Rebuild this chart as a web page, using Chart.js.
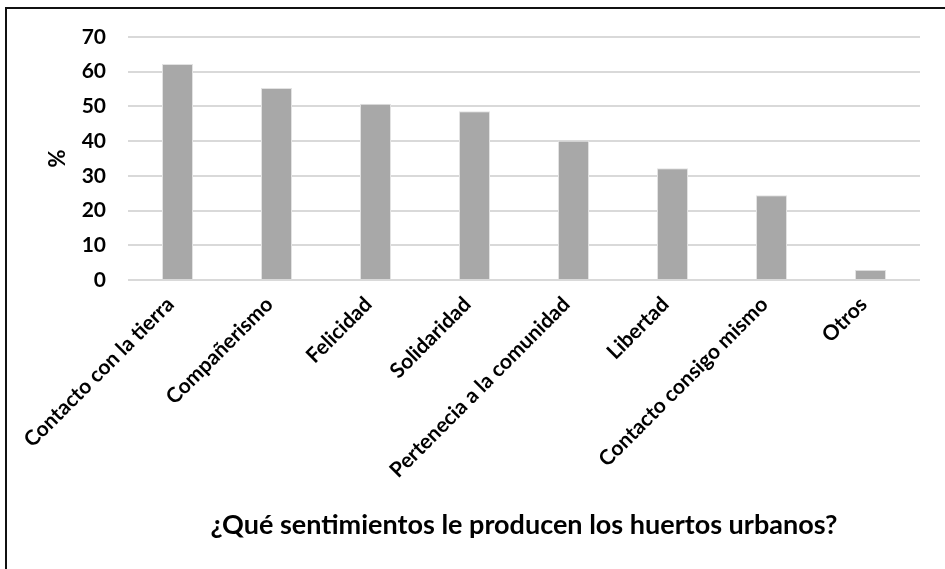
<!DOCTYPE html>
<html>
<head>
<meta charset="utf-8">
<script src="https://cdn.jsdelivr.net/npm/chart.js@4"></script>
<style>
  html, body { margin: 0; padding: 0; background: #fff; }
  #wrap { position: relative; width: 945px; height: 569px; overflow: hidden; background: #fff; }
  #frame { position: absolute; left: 5px; top: 7px; width: 960px; height: 600px;
           border-left: 2px solid #111; border-top: 2px solid #111; pointer-events: none; }
  canvas { position: absolute; left: 0; top: 0; }
</style>
</head>
<body>
<div id="wrap">
  <canvas id="c" width="945" height="569"></canvas>
  <div id="frame"></div>
</div>
<script>
const categories = [
  "Contacto con la tierra",
  "Compañerismo",
  "Felicidad",
  "Solidaridad",
  "Pertenecia a la comunidad",
  "Libertad",
  "Contacto consigo mismo",
  "Otros"
];
const percentValues = [62.2, 55.3, 50.8, 48.6, 40.1, 32.2, 24.4, 2.9];
const yTickValues = [0, 10, 20, 30, 40, 50, 60, 70];
const xAxisTitle = "¿Qué sentimientos le producen los huertos urbanos?";
const yAxisTitle = "%";

const FONT = "Lato, 'Open Sans', sans-serif";

new Chart(document.getElementById('c'), {
  type: 'bar',
  data: {
    labels: categories,
    datasets: [{
      data: percentValues,
      backgroundColor: '#a8a8a8',
      borderColor: '#e2e2e2',
      borderWidth: 1,
      categoryPercentage: 1,
      barPercentage: 0.313
    }]
  },
  options: {
    responsive: false,
    animation: false,
    devicePixelRatio: 1,
    layout: { padding: { left: 0, right: 25, top: 37, bottom: 24 } },
    plugins: { legend: { display: false }, tooltip: { enabled: false } },
    scales: {
      x: {
        grid: { display: false, drawTicks: false },
        border: { display: false },
        ticks: {
          autoSkip: false, minRotation: 45, maxRotation: 45, padding: 12, labelOffset: -7,
          color: '#000', font: { family: FONT, size: 21, weight: 'bold' }
        },
        title: {
          display: true, text: xAxisTitle, color: '#000',
          font: { family: FONT, size: 27, weight: 'bold' },
          padding: { top: 0, bottom: 4 }
        },
        afterFit(scale) { scale.height = 569 - 24 - 280; }
      },
      y: {
        min: 0, max: 70,
        afterBuildTicks(scale) { scale.ticks = yTickValues.map(v => ({ value: v })); },
        grid: { color: '#d9d9d9', lineWidth: 2, drawTicks: false },
        border: { display: false },
        ticks: {
          padding: 22, color: '#000',
          font: { family: FONT, size: 21, weight: 'bold' }
        },
        title: {
          display: true, text: yAxisTitle, color: '#000',
          font: { family: FONT, size: 22, weight: 'bold' },
          padding: { top: 45, bottom: 0 }
        },
        afterFit(scale) { scale.width = 128; }
      }
    }
  }
});
</script>
</body>
</html>
